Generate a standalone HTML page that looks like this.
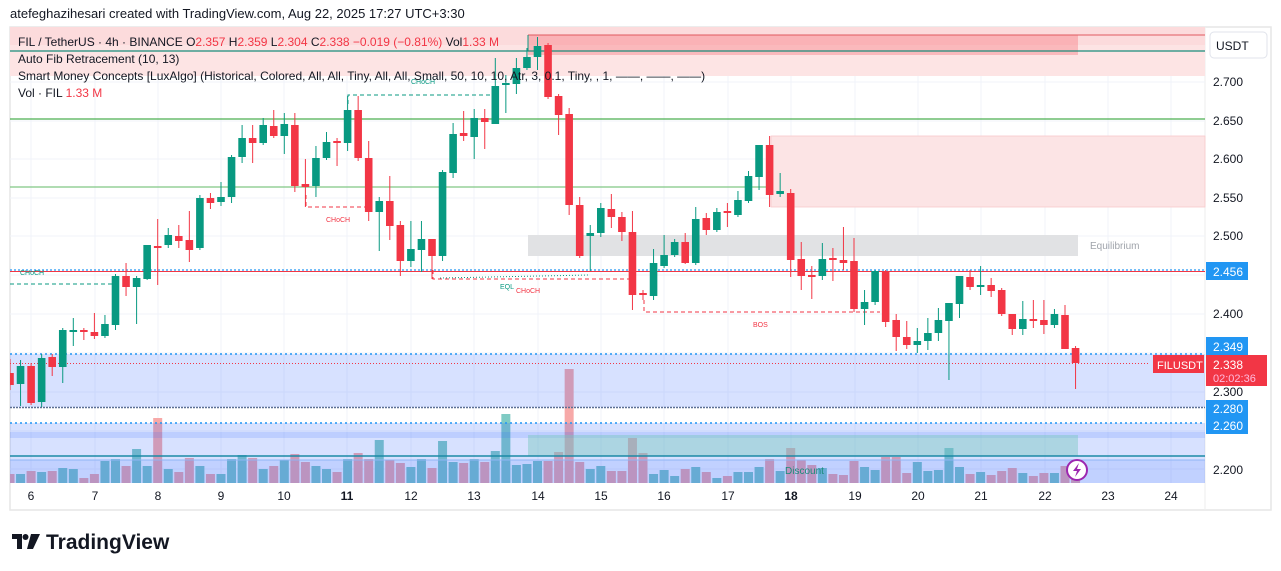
<!DOCTYPE html>
<html><head><meta charset="utf-8"><style>
html,body{margin:0;padding:0;background:#fff;width:1281px;height:571px;overflow:hidden}
svg{display:block;font-family:"Liberation Sans",sans-serif}
</style></head><body>
<svg id="s" width="1281" height="571" viewBox="0 0 1281 571" xmlns="http://www.w3.org/2000/svg">
<defs><clipPath id="pc"><rect x="10" y="27" width="1195" height="456"/></clipPath></defs>
<rect width="1281" height="571" fill="#fff"/>
<text x="10" y="18" font-size="13" fill="#131722">atefeghazihesari created with TradingView.com, Aug 22, 2025 17:27 UTC+3:30</text>
<rect x="10" y="27" width="1261" height="483" fill="none" stroke="#e6e6e6" stroke-width="1.5"/>
<line x1="1205" y1="27" x2="1205" y2="510" stroke="#eee"/>
<g id="grid" stroke="#f0f3fa" stroke-width="1"></g>
<g id="vol" clip-path="url(#pc)"></g>
<rect x="10" y="27" width="1195" height="49" fill="#fde4e4"/>
<rect x="10" y="27" width="1195" height="18" fill="rgba(242,54,69,0.05)"/>
<rect x="528" y="35" width="550" height="20" fill="rgba(242,54,69,0.25)"/>
<line x1="528" y1="35" x2="1205" y2="35" stroke="#e05a5f" stroke-width="1"/>
<line x1="528" y1="35" x2="528" y2="51" stroke="#089981" stroke-width="1"/>
<line x1="10" y1="51" x2="1205" y2="51" stroke="#1a8c7a" stroke-width="1.2"/>
<line x1="10" y1="119" x2="1205" y2="119" stroke="#4caf50" stroke-width="1.2"/>
<line x1="10" y1="187" x2="1205" y2="187" stroke="#81c784" stroke-width="1.2"/>
<rect x="771" y="136" width="434" height="71" fill="#fce4e5" stroke="#f8c8ca" stroke-width="0.8"/>
<rect x="528" y="235" width="550" height="21" fill="#e1e2e4"/>
<text x="1090" y="249" font-size="10" fill="#a0a4ab">Equilibrium</text>
<rect x="10" y="354" width="1195" height="53" fill="rgba(41,98,255,0.19)"/>
<rect x="10" y="423" width="1195" height="60" fill="rgba(41,98,255,0.19)"/>
<rect x="10" y="432" width="1195" height="6" fill="rgba(41,98,255,0.15)"/>
<rect x="10" y="460" width="1195" height="23" fill="rgba(41,98,255,0.12)"/>
<rect x="528" y="435" width="550" height="21" fill="rgba(120,200,190,0.45)"/>
<line x1="10" y1="456" x2="1205" y2="456" stroke="#1b8aa6" stroke-width="1.5"/>
<line x1="10" y1="460" x2="1205" y2="460" stroke="#8fb5f5" stroke-width="1"/>
<text x="785" y="474" font-size="10" fill="#1a8c7a">Discount</text>
<line x1="10" y1="354" x2="1205" y2="354" stroke="#2196f3" stroke-width="1.5" stroke-dasharray="2,3"/>
<line x1="10" y1="407.5" x2="1205" y2="407.5" stroke="#5b6f95" stroke-width="1.5" stroke-dasharray="2,1"/>
<line x1="10" y1="423" x2="1205" y2="423" stroke="#2196f3" stroke-width="1.5" stroke-dasharray="2,3"/>
<line x1="10" y1="363.5" x2="1150" y2="363.5" stroke="#f23645" stroke-width="1" stroke-dasharray="1,2"/>
<line x1="10" y1="271.5" x2="1205" y2="271.5" stroke="#f23645" stroke-width="1"/>
<line x1="10" y1="270" x2="1205" y2="270" stroke="#2196f3" stroke-width="1.3" stroke-dasharray="2,2"/>
<line x1="10" y1="284" x2="112" y2="284" stroke="#089981" stroke-dasharray="4,3"/>
<text x="20" y="275" font-size="7" fill="#089981">CHoCH</text>
<polyline points="348,104 348,95 495,95" fill="none" stroke="#089981" stroke-dasharray="4,3"/>
<text x="411" y="84" font-size="7" fill="#089981">CHoCH</text>
<polyline points="306,195 306,207 367,207" fill="none" stroke="#f23645" stroke-dasharray="4,3"/>
<text x="326" y="222" font-size="7" fill="#f23645">CHoCH</text>
<polyline points="433,270 433,279 633,279" fill="none" stroke="#f23645" stroke-dasharray="4,3"/>
<line x1="440" y1="278" x2="590" y2="275" stroke="#089981" stroke-dasharray="1,2"/>
<text x="500" y="289" font-size="7" fill="#089981">EQL</text>
<text x="516" y="293" font-size="7" fill="#f23645">CHoCH</text>
<polyline points="644,300 644,312 880,312" fill="none" stroke="#f23645" stroke-dasharray="4,3"/>
<text x="753" y="327" font-size="7" fill="#f23645">BOS</text>
<g id="candles" clip-path="url(#pc)"></g>
<g font-size="12" fill="#131722">
<text x="18" y="46">FIL / TetherUS · 4h · BINANCE  <tspan>O</tspan><tspan fill="#f23645">2.357</tspan>  H<tspan fill="#f23645">2.359</tspan>  L<tspan fill="#f23645">2.304</tspan>  C<tspan fill="#f23645">2.338</tspan>  <tspan fill="#f23645">−0.019 (−0.81%)</tspan>  Vol<tspan fill="#f23645">1.33 M</tspan></text>
<text x="18" y="63">Auto Fib Retracement (10, 13)</text>
<text x="18" y="80">Smart Money Concepts [LuxAlgo] (Historical, Colored, All, All, Tiny, All, All, Small, 50, 10, 10, Atr, 3, 0.1, Tiny, , 1, ——, ——, ——)</text>
<text x="18" y="97">Vol · FIL  <tspan fill="#f23645">1.33 M</tspan></text>
</g>
<rect x="1210" y="32" width="57" height="26" rx="4" fill="#fff" stroke="#e0e3eb"/>
<text x="1216" y="50" font-size="12" fill="#131722">USDT</text>
<g font-size="12" fill="#131722">
<text x="1213" y="86">2.700</text><text x="1213" y="125">2.650</text><text x="1213" y="163">2.600</text>
<text x="1213" y="202">2.550</text><text x="1213" y="240">2.500</text><text x="1213" y="318">2.400</text>
<text x="1213" y="396">2.300</text><text x="1213" y="474">2.200</text>
</g>
<g font-size="12" fill="#fff">
<rect x="1206" y="262" width="42" height="18" fill="#2196f3"/><text x="1213" y="276">2.456</text>
<rect x="1206" y="337" width="42" height="18" fill="#2196f3"/><text x="1213" y="351">2.349</text>
<rect x="1206" y="400" width="42" height="17" fill="#2196f3"/><text x="1213" y="413">2.280</text>
<rect x="1206" y="417" width="42" height="17" fill="#2196f3"/><text x="1213" y="430">2.260</text>
<rect x="1153" y="355" width="51" height="18" fill="#f23645"/><text x="1157" y="369" font-size="11">FILUSDT</text>
<rect x="1206" y="355" width="61" height="31" fill="#f23645"/><text x="1213" y="369">2.338</text><text x="1213" y="382" font-size="11" fill="#fbd">02:02:36</text>
</g>
<g font-size="12" fill="#131722" text-anchor="middle">
<text x="31" y="500">6</text><text x="95" y="500">7</text><text x="158" y="500">8</text><text x="221" y="500">9</text>
<text x="284" y="500">10</text><text x="347" y="500" font-weight="bold">11</text><text x="411" y="500">12</text><text x="474" y="500">13</text>
<text x="538" y="500">14</text><text x="601" y="500">15</text><text x="664" y="500">16</text><text x="728" y="500">17</text>
<text x="791" y="500" font-weight="bold">18</text><text x="855" y="500">19</text><text x="918" y="500">20</text><text x="981" y="500">21</text>
<text x="1045" y="500">22</text><text x="1108" y="500">23</text><text x="1171" y="500">24</text>
</g>
<circle cx="1077" cy="470" r="10" fill="#fff" stroke="#9c27b0" stroke-width="2"/>
<path d="M1079 463 L1073 471 L1077 471 L1075 477 L1081 469 L1077 469 Z" fill="#9c27b0"/>
<g fill="#131722">
<path d="M12 534 h10 v15 h-5 v-10 h-5 z"/><circle cx="25.5" cy="537" r="3"/><path d="M31 534 h9 l-7 15 h-6 z"/>
</g>
<text x="46" y="549" font-size="21" font-weight="bold" fill="#131722">TradingView</text>
</svg>
<script>
var NS="http://www.w3.org/2000/svg";
function el(p,t,a){var e=document.createElementNS(NS,t);for(var k in a)e.setAttribute(k,a[k]);p.appendChild(e);return e;}
var grid=document.getElementById('grid');
[31,95,158,221,284,347,411,474,538,601,664,728,791,855,918,981,1045,1108,1171].forEach(function(x){el(grid,'line',{x1:x,y1:27,x2:x,y2:483});});
[82,121,159,198,236,275,314,353,392,431,469].forEach(function(y){el(grid,'line',{x1:10,y1:y,x2:1205,y2:y});});
var D=`r 373 385 359 390
g 366 384 360 406
r 366 403 363 405
g 358 402 354 407
r 357 367 354 376
g 330 367 328 383
g 330 332 318 346
r 330 332 328 340
r 332 336 313 339
g 324 336 315 338
g 276 325 274 330
r 276 287 263 296
g 278 287 276 324
g 245 279 245 280
r 246 248 219 285
g 235 245 228 248
r 236 241 225 248
r 240 250 211 262
g 198 248 195 250
r 198 203 193 209
g 197 202 182 206
g 157 197 155 203
g 138 157 125 163
r 138 143 125 163
g 125 143 118 145
r 126 136 110 138
g 124 136 113 154
r 125 186 113 192
r 184 187 159 207
g 158 186 146 197
g 142 158 132 160
r 141 143 138 166
g 110 143 96 151
r 110 158 96 161
r 158 212 141 221
g 201 212 197 251
r 201 226 176 240
r 225 261 221 276
g 249 261 221 267
g 239 250 221 272
r 239 256 239 279
g 172 256 170 261
g 134 173 123 178
r 133 136 111 141
g 118 137 109 159
r 118 122 109 149
g 86 124 58 124
g 83 85 75 113
g 68 84 58 94
g 57 68 48 70
g 46 57 37 70
r 45 97 43 99
r 96 115 94 135
r 114 205 108 215
r 205 256 197 258
g 233 236 225 271
g 208 233 203 237
r 209 217 194 228
r 217 232 212 241
r 232 295 211 310
r 293 295 290 300
g 263 296 249 300
g 255 266 235 268
g 242 255 239 257
r 242 263 233 264
g 219 263 207 265
r 218 230 213 235
g 212 230 208 232
r 211 213 203 227
g 200 215 191 217
g 176 201 171 203
g 145 177 145 190
r 145 195 136 207
g 191 194 173 197
r 193 260 189 277
r 259 276 242 290
r 275 277 266 299
g 259 276 243 280
r 258 260 248 281
r 260 263 227 270
r 261 309 238 312
g 302 309 290 325
g 271 302 270 305
r 272 322 270 327
r 320 337 314 351
r 337 345 321 349
g 341 345 328 353
g 333 341 318 350
g 320 333 308 341
g 303 321 303 380
g 276 304 276 318
r 277 287 270 290
g 285 287 266 295
r 285 291 278 297
r 290 314 288 316
r 314 329 314 335
g 319 329 301 335
r 319 321 300 328
r 320 325 300 334
g 314 325 309 328
r 315 349 305 349
r 348 363 346 389`.split('\n').map(function(l){return l.trim().split(/\s+/);});
var V=[474,474,471,472,471,468,469,478,474,461,459,466,449,466,418,469,472,458,466,474,474,459,455,458,469,466,460,454,462,466,469,472,459,453,459,440,460,463,467,459,468,441,462,463,459,462,451,414,465,464,461,461,452,369,462,469,466,471,471,438,
453,474,470,476,469,467,472,478,476,472,472,467,459,471,448,460,465,468,474,475,461,467,470,457,457,473,462,471,470,448,467,474,472,475,471,468,473,476,473,473,466,462];
var cg=document.getElementById('candles'),vg=document.getElementById('vol');
D.forEach(function(c,i){
 var x=10+10.55*i,col=c[0]=='g'?'#089981':'#f23645';
 var bt=+c[1],bb=+c[2],wt=+c[3],wb=+c[4];
 if(bb-bt<2){bb=bt+2;}
 el(cg,'line',{x1:x,y1:wt,x2:x,y2:wb,stroke:col,'stroke-width':1});
 el(cg,'rect',{x:x-3.8,y:bt,width:7.6,height:bb-bt,fill:col});
 var vt=V[i]||470;
 el(vg,'rect',{x:x-4.5,y:vt,width:9,height:483-vt,fill:c[0]=='g'?'#80cbc4':'#f7a9a8'});
});
</script>
</body></html>
